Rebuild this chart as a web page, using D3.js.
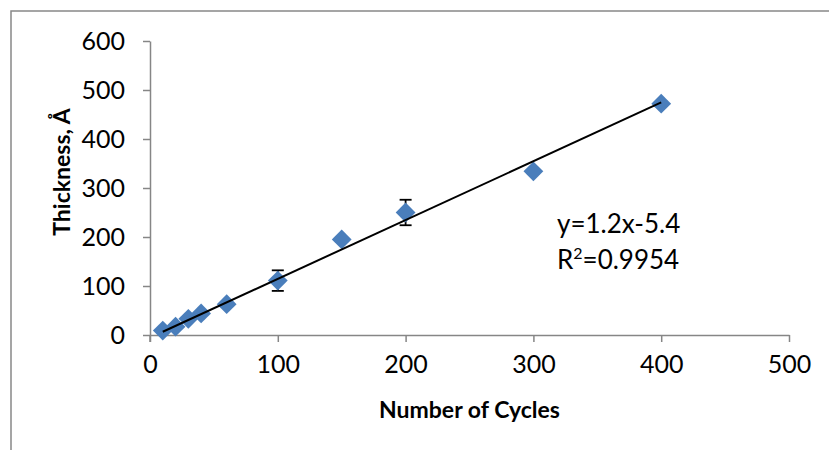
<!DOCTYPE html>
<html>
<head>
<meta charset="UTF-8">
<title>Thickness vs Number of Cycles</title>
<style>
    body { margin: 0; background: #fff; }
    text { font-family: Lato, "Open Sans", sans-serif; fill: #000; }
    .axis path, .axis line { stroke: #868686; stroke-width: 1.5px; }
    .axis text { font-size: 25px; }
    .title { font-size: 23px; font-weight: bold; }
    .fit { stroke: #000; stroke-width: 2px; fill: none; }
    .err { stroke: #000; stroke-width: 1.8px; }
    .pt { fill: #4a7ebb; }
</style>
</head>
<body>
<script src="https://d3js.org/d3.v7.min.js"></script>
<svg id="chart" width="829" height="450"></svg>
<script>
    // data
    var cycles    = [10, 20, 30, 40, 60, 100, 150, 200, 300, 400];
    var thickness = [9, 17, 33, 44, 63, 111, 195, 250, 334, 472];
    var errs      = [2, 2, 3, 3, 4, 21, 5, 26, 5, 5];
    var xTicks = [0, 100, 200, 300, 400, 500];
    var yTicks = [0, 100, 200, 300, 400, 500, 600];
    var slope = 1.2, intercept = -5.4;
    var eqLines = ["y=1.2x-5.4", "R2=0.9954"];

    var svg = d3.select("#chart");

    // outer chart border (runs off the page at right and bottom)
    svg.append("rect")
        .attr("x", 11).attr("y", 11)
        .attr("width", 900).attr("height", 500)
        .attr("fill", "none").attr("stroke", "#888").attr("stroke-width", 1.5);

    var x = d3.scaleLinear().domain([0, 500]).range([150, 789]);
    var y = d3.scaleLinear().domain([0, 600]).range([335, 41]);

    var xAxis = svg.append("g").attr("class", "axis")
        .attr("transform", "translate(0," + y(0) + ")")
        .call(d3.axisBottom(x).tickValues(xTicks).tickSize(7).tickSizeOuter(0).tickPadding(13));
    var yAxis = svg.append("g").attr("class", "axis")
        .attr("transform", "translate(" + x(0) + ",0)")
        .call(d3.axisLeft(y).tickValues(yTicks).tickSize(7).tickSizeOuter(0).tickPadding(18));
    // y axis line carries on down past the x axis like the reference
    svg.append("line")
        .attr("x1", x(0)).attr("x2", x(0))
        .attr("y1", y(0)).attr("y2", y(0) + 7)
        .attr("stroke", "#868686").attr("stroke-width", 1.5);
    xAxis.selectAll("text").attr("font-family", "Lato, sans-serif");
    yAxis.selectAll("text").attr("font-family", "Lato, sans-serif");

    svg.append("text").attr("class", "title")
        .attr("x", (x(0) + x(500)) / 2).attr("y", 418)
        .attr("text-anchor", "middle")
        .text("Number of Cycles");
    svg.append("text").attr("class", "title")
        .attr("transform", "translate(70,172) rotate(-90)")
        .attr("text-anchor", "middle")
        .text("Thickness, Å");

    var pts = cycles.map(function (c, i) { return { c: c, t: thickness[i], e: errs[i] }; });

    // error bars
    var eb = svg.append("g");
    pts.forEach(function (d) {
        eb.append("line").attr("class", "err")
            .attr("x1", x(d.c)).attr("x2", x(d.c))
            .attr("y1", y(d.t - d.e)).attr("y2", y(d.t + d.e));
        [d.t - d.e, d.t + d.e].forEach(function (v) {
            eb.append("line").attr("class", "err")
                .attr("x1", x(d.c) - 6).attr("x2", x(d.c) + 6)
                .attr("y1", y(v)).attr("y2", y(v));
        });
    });

    // diamonds
    svg.append("g").selectAll("path")
        .data(pts)
        .enter().append("path")
        .attr("class", "pt")
        .attr("d", d3.symbol().type(d3.symbolDiamond2).size(250))
        .attr("transform", function (d) { return "translate(" + x(d.c) + "," + y(d.t) + ")"; });

    // linear fit across the data range
    var x0 = d3.min(cycles), x1 = d3.max(cycles);
    svg.append("line").attr("class", "fit")
        .attr("x1", x(x0)).attr("y1", y(slope * x0 + intercept))
        .attr("x2", x(x1)).attr("y2", y(slope * x1 + intercept));

    var eq = svg.append("g").attr("font-size", "26px");
    eq.append("text").attr("x", 557).attr("y", 233).text(eqLines[0]);
    var r2 = eq.append("text").attr("x", 557).attr("y", 269);
    r2.append("tspan").text("R");
    r2.append("tspan").attr("font-size", "16px").attr("dy", -10).text("2");
    r2.append("tspan").attr("dy", 10).text("=0.9954");
</script>
</body>
</html>
